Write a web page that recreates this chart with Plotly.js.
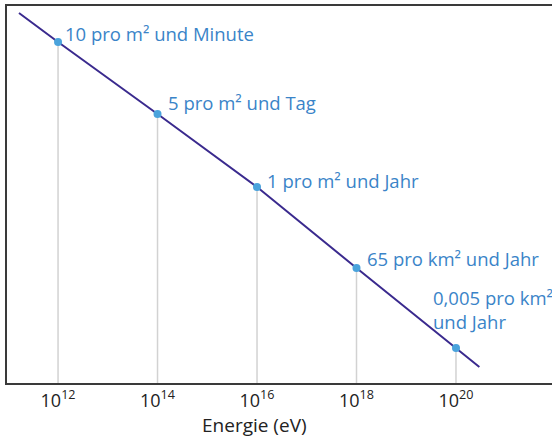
<!DOCTYPE html>
<html>
<head>
<meta charset="utf-8">
<script src="https://cdn.plot.ly/plotly-3.0.1.min.js"></script>
<style>html,body{margin:0;padding:0;background:#fff;}#chart{width:552px;height:438px;}</style>
</head>
<body>
<div id="chart"></div>
<script>
// Energy of cosmic ray particles (eV) and relative flux height (arbitrary units)
const energies = [1e12, 1e14, 1e16, 1e18, 1e20];
const fluxRel = [341, 269, 196, 115, 35];
const labels = ["10 pro m² und Minute", "5 pro m² und Tag", "1 pro m² und Jahr", "65 pro km² und Jahr", "0,005 pro km²<br>und Jahr"];
// Spectrum line including its extensions beyond the first and last point
const lineEnergies = [Math.pow(10, 11.215), 1e12, 1e14, 1e16, 1e18, 1e20, Math.pow(10, 20.47)];
const lineFlux = [370, 341, 269, 196, 115, 35, 16];
const tickVals = [1e12, 1e14, 1e16, 1e18, 1e20];
const tickText = ["10<sup>12</sup>", "10<sup>14</sup>", "10<sup>16</sup>", "10<sup>18</sup>", "10<sup>20</sup>"];
const xTitle = "Energie (eV)";

const FONT = "'Open Sans', sans-serif";
const dropX = [], dropY = [];
energies.forEach((e, i) => { dropX.push(e, e, null); dropY.push(fluxRel[i], 0, null); });

const traces = [
  {x: dropX, y: dropY, mode: 'lines', line: {color: '#d2d2d2', width: 1.5}, hoverinfo: 'skip'},
  {x: lineEnergies, y: lineFlux, mode: 'lines', line: {color: '#3a2a8e', width: 2}},
  {x: energies, y: fluxRel, mode: 'markers', marker: {color: '#4aa3dc', size: 8}}
];

const shifts = [[5, 9], [8, 12], [8, 7], [8, 10], [-25, 39]];
const annotations = energies.map((e, i) => ({
  x: Math.log10(e), y: fluxRel[i], xref: 'x', yref: 'y', text: labels[i], showarrow: false,
  xanchor: 'left', yanchor: 'middle', align: 'left',
  xshift: shifts[i][0], yshift: shifts[i][1],
  font: {family: FONT, size: 18.5, color: '#3a84c8'}
}));
annotations.push({
  x: (254 - 7) / 545, y: -(425 - 383) / 377, xref: 'paper', yref: 'paper', text: xTitle, showarrow: false,
  xanchor: 'center', yanchor: 'middle',
  font: {family: FONT, size: 19, color: '#222'}
});

const layout = {
  width: 552, height: 438,
  margin: {l: 7, r: 0, t: 6, b: 55},
  paper_bgcolor: '#fff', plot_bgcolor: '#fff',
  showlegend: false,
  xaxis: {
    type: 'log', range: [10.974, 21.93],
    tickvals: tickVals, ticktext: tickText,
    showgrid: false, zeroline: false,
    showline: true, mirror: true, linecolor: '#3a3a3a', linewidth: 2,
    ticks: '', tickfont: {family: FONT, size: 18, color: '#222'}
  },
  yaxis: {
    range: [0, 377], showgrid: false, zeroline: false, showticklabels: false,
    showline: true, linecolor: '#3a3a3a', linewidth: 2, ticks: ''
  },
  annotations: annotations
};

Plotly.newPlot('chart', traces, layout, {displayModeBar: false, staticPlot: true});
</script>
</body>
</html>
